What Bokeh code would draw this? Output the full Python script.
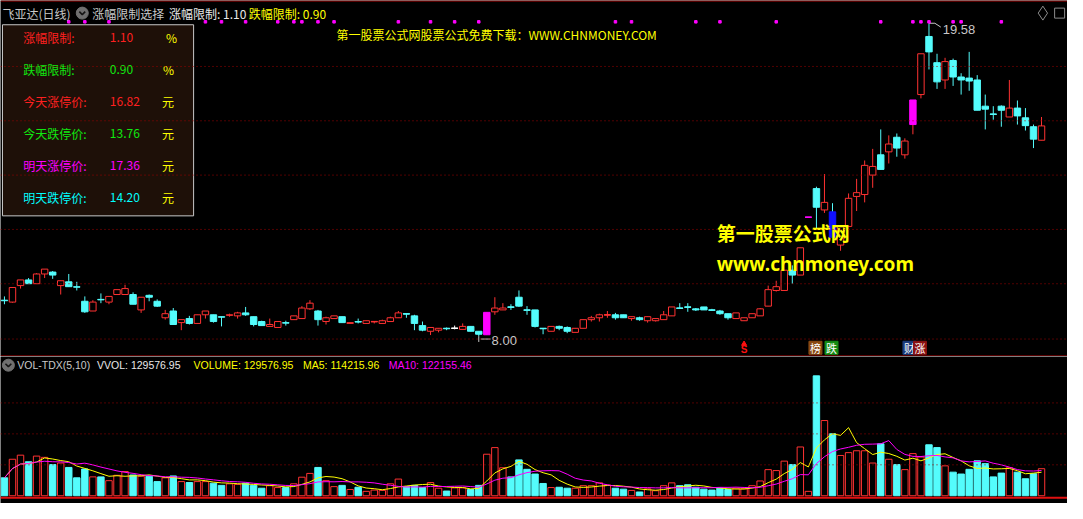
import numpy as np
import pandas as pd
from bokeh.plotting import figure
from bokeh.layouts import column
from bokeh.models import Range1d, Span
from bokeh.embed import file_html
from bokeh.resources import INLINE
from bokeh.core.properties import value

# ---------------- data ----------------
stock_title = "飞亚达(日线)"
opens = [9.33, 9.26, 9.87, 10.08, 9.94, 10.30, 10.37, 9.87, 10.01, 9.83,
         9.29, 8.93, 9.36, 9.26, 9.54, 9.54, 9.54, 8.97, 9.51, 9.29,
         8.68, 8.93, 8.50, 8.65, 8.47, 8.79, 8.79, 8.72, 8.77, 8.75,
         8.86, 8.72, 8.54, 8.36, 8.32, 8.50, 8.61, 8.65, 9.01, 8.93,
         8.54, 8.65, 8.72, 8.47, 8.54, 8.47, 8.53, 8.47, 8.54, 8.68,
         8.83, 8.75, 8.39, 8.18, 8.22, 8.29, 8.29, 8.25, 8.36, 8.18,
         8.05, 8.90, 8.97, 9.08, 9.44, 8.97, 8.97, 8.29, 8.18, 8.36,
         8.32, 8.14, 8.29, 8.61, 8.68, 8.78, 8.79, 8.79, 8.65, 8.68,
         8.57, 8.57, 8.61, 8.75, 9.04, 9.08, 9.01, 9.08, 8.97, 8.93,
         8.83, 8.65, 8.57, 8.68, 8.75, 9.11, 9.69, 9.69, 10.44, 10.26,
         12.40, 13.46, 12.67, 12.60, 11.37, 12.06, 13.17, 13.24, 13.96, 14.71,
         14.82, 15.36, 14.71, 15.83, 16.94, 19.09, 18.12, 17.48, 18.20, 17.59,
         17.55, 17.48, 16.51, 16.22, 16.51, 16.11, 16.44, 16.08, 15.75, 15.25]
highs = [9.47, 9.80, 10.08, 10.15, 10.33, 10.48, 10.41, 10.05, 10.30, 10.01,
         9.47, 9.33, 9.58, 9.47, 9.72, 9.90, 9.62, 9.44, 9.54, 9.36,
         8.97, 9.04, 8.61, 8.75, 8.79, 8.93, 8.79, 8.72, 8.83, 8.90,
         9.08, 8.72, 8.57, 8.65, 8.54, 8.57, 8.75, 9.11, 9.33, 8.97,
         8.72, 8.75, 8.72, 8.50, 8.65, 8.57, 8.54, 8.61, 8.72, 8.93,
         8.83, 8.79, 8.54, 8.32, 8.29, 8.32, 8.39, 8.47, 8.36, 8.18,
         8.88, 9.44, 9.22, 9.18, 9.69, 9.11, 8.97, 8.29, 8.36, 8.39,
         8.36, 8.29, 8.61, 8.75, 8.83, 8.93, 8.86, 8.79, 8.72, 8.72,
         8.72, 8.65, 8.93, 9.08, 9.22, 9.22, 9.04, 9.08, 9.01, 8.97,
         8.83, 8.86, 8.68, 8.83, 9.04, 9.87, 10.05, 10.44, 10.62, 11.27,
         12.40, 13.53, 14.00, 12.92, 12.09, 13.28, 13.82, 14.50, 14.93, 15.65,
         15.43, 15.50, 15.32, 16.74, 18.45, 19.58, 18.45, 18.30, 18.27, 17.73,
         18.52, 17.66, 16.94, 16.51, 16.54, 17.48, 16.72, 16.44, 15.83, 16.11]
lows = [9.18, 9.24, 9.76, 9.94, 9.94, 10.15, 10.12, 9.54, 9.83, 9.69,
        8.86, 8.93, 9.22, 9.18, 9.54, 9.54, 9.18, 8.86, 9.29, 9.08,
        8.61, 8.43, 8.22, 8.43, 8.47, 8.65, 8.50, 8.36, 8.72, 8.65,
        8.75, 8.36, 8.39, 8.36, 8.32, 8.39, 8.61, 8.65, 8.97, 8.39,
        8.43, 8.65, 8.50, 8.47, 8.47, 8.47, 8.47, 8.47, 8.54, 8.68,
        8.68, 8.22, 8.18, 8.04, 8.14, 8.22, 8.25, 8.25, 8.18, 8.00,
        8.04, 8.79, 8.97, 8.97, 9.08, 8.79, 8.32, 8.07, 8.18, 8.22,
        8.11, 8.14, 8.29, 8.54, 8.54, 8.68, 8.61, 8.68, 8.57, 8.57,
        8.50, 8.54, 8.61, 8.75, 9.01, 8.90, 8.93, 8.97, 8.93, 8.79,
        8.61, 8.65, 8.57, 8.68, 8.75, 9.11, 9.65, 9.69, 9.94, 10.26,
        12.40, 11.95, 12.56, 11.66, 11.16, 12.06, 12.63, 12.95, 13.49, 14.17,
        14.39, 14.64, 14.57, 15.47, 16.80, 17.87, 17.15, 17.15, 17.26, 16.94,
        17.08, 16.36, 15.65, 16.01, 15.75, 16.11, 15.83, 15.61, 14.96, 15.25]
closes = [9.31, 9.80, 10.08, 9.94, 10.30, 10.48, 10.26, 10.05, 9.83, 9.81,
          8.90, 9.26, 9.35, 9.47, 9.72, 9.76, 9.18, 9.44, 9.44, 9.11,
          8.83, 8.43, 8.61, 8.47, 8.79, 8.93, 8.54, 8.70, 8.79, 8.86,
          8.79, 8.43, 8.39, 8.43, 8.54, 8.48, 8.75, 9.04, 9.22, 8.61,
          8.68, 8.75, 8.50, 8.50, 8.52, 8.57, 8.54, 8.57, 8.68, 8.86,
          8.82, 8.47, 8.22, 8.32, 8.29, 8.28, 8.29, 8.36, 8.18, 8.07,
          8.88, 9.04, 9.04, 9.07, 9.11, 8.96, 8.36, 8.28, 8.36, 8.29,
          8.18, 8.29, 8.61, 8.68, 8.79, 8.79, 8.68, 8.68, 8.72, 8.61,
          8.72, 8.65, 8.79, 9.08, 9.03, 9.07, 8.97, 8.97, 8.96, 8.83,
          8.68, 8.86, 8.68, 8.83, 9.01, 9.72, 9.83, 10.44, 10.26, 11.27,
          12.40, 12.77, 12.95, 11.66, 12.09, 13.10, 13.31, 14.32, 14.28, 14.17,
          15.11, 14.96, 15.22, 16.74, 18.45, 18.52, 17.41, 18.16, 17.59, 17.48,
          17.44, 16.36, 16.40, 16.21, 16.36, 16.44, 16.15, 15.79, 15.29, 15.78]
volumes = [85900, 174800, 194400, 162800, 189900, 183900, 149200, 156700, 135600, 85900,
           128100, 90400, 90400, 72300, 98000, 116000, 99500, 93400, 93400, 67800,
           85900, 94900, 67800, 63300, 67800, 67800, 60300, 49700, 57300, 54300,
           60300, 49700, 36200, 48200, 39200, 39200, 57300, 88900, 107000, 135600,
           72300, 43700, 49700, 30100, 40700, 21100, 27100, 25600, 57300, 79900,
           43700, 49700, 39200, 63300, 36200, 22600, 37700, 37700, 30100, 49700,
           198900, 230600, 134100, 90400, 171800, 126600, 104000, 58800, 39200, 40700,
           36200, 36200, 48200, 48200, 61800, 51200, 36200, 31600, 25600, 18100,
           33200, 24100, 48200, 61800, 48200, 52700, 40700, 31600, 27100, 36200,
           30100, 36200, 33200, 48200, 70800, 125100, 120600, 165800, 149200, 233600,
           21100, 574200, 360200, 296900, 192900, 206500, 215500, 215500, 156700, 248700,
           174800, 149200, 125100, 201900, 185400, 244100, 230600, 143200, 113000, 104000,
           126600, 167300, 153700, 90400, 108500, 134100, 113000, 81400, 105500, 129577]
limit_up_days = [60, 100, 113]
limit_down_days = [103]
signal_dot_days = [8, 10, 13, 25, 27, 30, 34, 36, 37, 39, 41, 49, 53, 56, 59,
                   76, 78, 86, 89, 96, 109, 113, 114, 115, 118, 119, 124]
event_labels = ["榜", "跌", "财", "涨"]
event_days = [101, 103, 113, 114]
s_signal_days = [92]
table_labels = ["涨幅限制:", "跌幅限制:", "今天涨停价:", "今天跌停价:", "明天涨停价:", "明天跌停价:"]
table_values = ["1.10", "0.90", "16.82", "13.76", "17.36", "14.20"]
table_units = ["%", "%", "元", "元", "元", "元"]
rise_limit = "1.10"
fall_limit = "0.90"
vol_last = "129576.95"
ma5_last = "114215.96"
ma10_last = "122155.46"

# ---------------- layout helpers ----------------
W, H1, H2 = 1067, 356, 147
PX = 8.16                      # pixel spacing of one bar in the reference


def X(px):
    return (px - 4) / PX


def YP(py):
    return 8.0 + (346 - py) * 0.0359


def YV(py):
    return (511 - py) * 4631.0


RED = "#FF3232"
CYAN = "#54FCFC"
MAG = "#FF00FF"
YEL = "#FFFF00"
BLUE = "#1010FF"
WHITE = "#FFFFFF"
GREEN = "#10E810"
GRID = "#A00000"
GRAY = "#C8C8C8"
CJK = value("Noto Sans CJK SC")
LAT = value("Liberation Sans")


def make_fig(h, y0, y1):
    p = figure(width=W, height=h, x_range=Range1d(X(0), X(1083)), y_range=Range1d(y0, y1),
               output_backend="svg", toolbar_location=None, min_border=0,
               background_fill_color="black", border_fill_color="black",
               outline_line_color=None)
    p.axis.visible = False
    p.grid.visible = False
    return p


def put_text(p, xpx, y, s, color, size="12px", font=CJK, style="normal", align="left"):
    p.text(x=[X(xpx)], y=[y], text=[s], text_color=color, text_font=font,
           text_font_size=size, text_font_style=style, text_align=align,
           text_baseline="middle")


p1 = make_fig(H1, YP(367), YP(0))
p2 = make_fig(H2, YV(519), YV(367))

# ---------------- price pane ----------------
for gy in [349, 292, 236, 180, 124, 68]:
    p1.add_layout(Span(location=YP(gy), dimension="width", line_color=GRID,
                       line_dash="1 3", line_width=1))
p1.add_layout(Span(location=YP(0.5), dimension="width", line_color="#B00000", line_width=1))
p1.add_layout(Span(location=YP(366.5), dimension="width", line_color="#B00000", line_width=1))

n = len(closes)
d = np.arange(n)
o = np.array(opens)
hh = np.array(highs)
ll = np.array(lows)
c = np.array(closes)
lu = np.isin(d, limit_up_days)
ld = np.isin(d, limit_down_days)
up = c > o
down = c < o

body_fill, body_line, wick_col = [], [], []
for i in range(n):
    if lu[i]:
        body_fill.append(MAG); body_line.append(MAG); wick_col.append(RED)
    elif ld[i]:
        body_fill.append(BLUE); body_line.append(BLUE); wick_col.append(CYAN)
    elif up[i]:
        body_fill.append("black"); body_line.append(RED); wick_col.append(RED)
    elif down[i]:
        body_fill.append(CYAN); body_line.append(CYAN); wick_col.append(CYAN)
    else:
        body_fill.append(WHITE); body_line.append(WHITE); wick_col.append(WHITE)

p1.segment(x0=d, y0=ll, x1=d, y1=hh, color=wick_col, line_width=1)
p1.vbar(x=d, width=0.8, top=np.maximum(o, c), bottom=np.minimum(o, c),
        fill_color=body_fill, line_color=body_line, line_width=1)
doji = np.abs(o - c) < 0.015
p1.segment(x0=d[doji] - 0.4, y0=c[doji], x1=d[doji] + 0.4, y1=c[doji],
           color=[body_line[i] for i in d[doji]], line_width=1.3)

# high / low annotations
hi = int(np.argmax(hh))
lo = int(np.argmin(ll))
k = 0.0359
p1.line([hi, hi + 6 / PX, hi + 12 / PX], [hh[hi], hh[hi], hh[hi] - 4 * k], color=GRAY, line_width=1)
p1.text(x=[hi + 14 / PX], y=[hh[hi] - 6 * k], text=[f"{hh[hi]:.2f}"], text_color=GRAY,
        text_font=LAT, text_font_size="13px", text_baseline="middle")
p1.line([lo, lo], [ll[lo], ll[lo] - 6 * k], color=GRAY, line_width=1)
p1.line([lo + 2 / PX, lo + 12 / PX], [ll[lo] - 3 * k, ll[lo] - 3 * k], color=GRAY, line_width=1)
p1.text(x=[lo + 13 / PX], y=[ll[lo] - 4 * k], text=[f"{ll[lo]:.2f}"], text_color=GRAY,
        text_font=LAT, text_font_size="13px", text_baseline="middle")

# signal dots along the top
p1.scatter(x=signal_dot_days, y=[YP(22)] * len(signal_dot_days), marker="square",
           size=2.5, color=MAG)

# event markers at bottom of price pane
p1.scatter(x=s_signal_days, y=[YP(354)] * len(s_signal_days), marker="triangle", size=5, color="#FF1010")
p1.text(x=s_signal_days, y=[YP(359.5)] * len(s_signal_days), text=["S"] * len(s_signal_days),
        text_color="#FF1010", text_font=LAT, text_font_style="bold", text_font_size="10px",
        text_align="center", text_baseline="middle")
ev_colors = ["#8A4A12", "#148C14", "#1C3C7C", "#8C1212"]
ev_shift = [-1, -1, -3.5, -1]
ev_x = [event_days[i] + ev_shift[i] / PX for i in range(len(event_days))]
for i in range(len(event_days)):
    p1.scatter(x=[ev_x[i]], y=[YP(358)], marker="square", size=13, color=ev_colors[i])
    p1.text(x=[ev_x[i]], y=[YP(358)], text=[event_labels[i]], text_color=WHITE,
            text_font=CJK, text_font_size="11px", text_align="center", text_baseline="middle")

# title line
put_text(p1, 2, YP(13), stock_title, GRAY)
p1.scatter(x=[X(83)], y=[YP(13)], marker="circle", size=12, color="#707070")
p1.line([X(80), X(83), X(86)], [YP(11.5), YP(14.5), YP(11.5)], color="#151515", line_width=1.6)
put_text(p1, 93, YP(13), "涨幅限制选择", GRAY)
put_text(p1, 171, YP(13), "涨幅限制: " + rise_limit, "#E8E8E8")
put_text(p1, 252, YP(13), "跌幅限制: " + fall_limit, YEL)
p1.scatter(x=[X(1058)], y=[YP(13)], marker="diamond", size=14, fill_color=None, line_color="#8C8C8C")
p1.scatter(x=[X(1075)], y=[YP(13)], marker="square", size=10, fill_color=None, line_color="#8C8C8C")

# info table
p1.quad(left=X(2), right=X(196), top=YP(25), bottom=YP(222), fill_color="#1E1008",
        line_color="#C8C8C8", line_width=1)
row_y = [38, 71, 104, 137, 170, 203]
row_col = ["#FF2020", GREEN, "#FF2020", GREEN, MAG, "#00FFFF"]
unit_x = [168, 165, 164, 164, 164, 164]
for i in range(len(table_labels)):
    put_text(p1, 23, YP(row_y[i]), table_labels[i], row_col[i])
    put_text(p1, 111, YP(row_y[i]), table_values[i], row_col[i])
    put_text(p1, unit_x[i], YP(row_y[i]), table_units[i], YEL)

# watermarks
put_text(p1, 341, YP(35), "第一股票公式网股票公式免费下载：WWW.CHNMONEY.COM", YEL)
put_text(p1, 727, YP(239), "第一股票公式网", YEL, size="19px", style="bold")
put_text(p1, 727, YP(272), "www.chnmoney.com", YEL, size="19px", font=value("Noto Sans"), style="bold")

# ---------------- volume pane ----------------
for gy in [479, 447, 415]:
    p2.add_layout(Span(location=YV(gy), dimension="width", line_color=GRID,
                       line_dash="1 3", line_width=1))
v = np.array(volumes, dtype=float)
vup = c >= o
p2.vbar(x=d, width=0.8, top=v, bottom=0,
        fill_color=["black" if u else CYAN for u in vup],
        line_color=[RED if u else CYAN for u in vup], line_width=1)
ma5 = pd.Series(v).rolling(5, min_periods=1).mean()
ma10 = pd.Series(v).rolling(10, min_periods=1).mean()
p2.line(d, ma5, color=YEL, line_width=1)
p2.line(d, ma10, color=MAG, line_width=1)
p2.add_layout(Span(location=YV(513), dimension="width", line_color="#E01010", line_width=2))

p2.scatter(x=[X(8)], y=[YV(376)], marker="circle", size=12, color="#707070")
p2.line([X(5), X(8), X(11)], [YV(374.5), YV(377.5), YV(374.5)], color="#151515", line_width=1.6)
put_text(p2, 17, YV(376), "VOL-TDX(5,10)", GRAY, size="10.5px", font=LAT)
put_text(p2, 98, YV(376), "VVOL: " + vol_last, "#E8E8E8", size="10.5px", font=LAT)
put_text(p2, 196, YV(376), "VOLUME: " + vol_last, YEL, size="10.5px", font=LAT)
put_text(p2, 307, YV(376), "MA5: " + ma5_last, YEL, size="10.5px", font=LAT)
put_text(p2, 394, YV(376), "MA10: " + ma10_last, MAG, size="10.5px", font=LAT)

layout = column(p1, p2, spacing=0)
open("out.html", "w").write(file_html(layout, INLINE, title="chart"))
